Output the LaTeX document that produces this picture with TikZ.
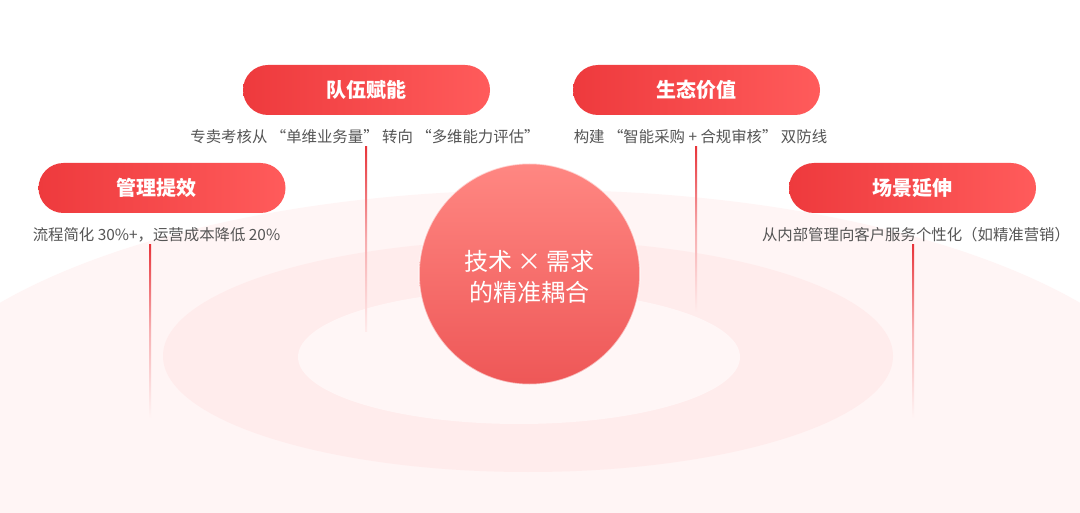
\documentclass[tikz,border=0pt]{standalone}
\usepackage{fontspec}
\setmainfont{Noto Sans CJK SC}
\usetikzlibrary{calc}
\definecolor{pillL}{HTML}{EE3A3D}
\definecolor{pillR}{HTML}{FF5B5B}
\definecolor{ringA}{HTML}{FFF5F5}
\definecolor{ringB}{HTML}{FFECEC}
\definecolor{ringC}{HTML}{FFF6F6}
\definecolor{circT}{HTML}{FF8782}
\definecolor{circB}{HTML}{EE5757}
\definecolor{desctext}{HTML}{555555}
\definecolor{lineR}{HTML}{E8343A}
\tikzset{
  pill/.style={rectangle, rounded corners=25pt, minimum width=247pt, minimum height=50pt,
    left color=pillL, right color=pillR, text=white, inner sep=0pt,
    font=\fontsize{20}{22}\selectfont\bfseries},
  desc/.style={text=desctext, inner sep=2pt, font=\fontsize{15.4}{18}\selectfont},
  stem/.style={top color=lineR, bottom color=#1, middle color=lineR!35!#1},
  core/.style={circle, minimum size=221pt, inner sep=0pt, top color=circT, bottom color=circB,
    draw=white, draw opacity=0.6, line width=1.5pt},
  coretext/.style={text=white, align=center, inner sep=0pt, font=\fontsize{24}{31}\selectfont}
}
\begin{document}
\begin{tikzpicture}[x=1pt,y=-1pt]
\useasboundingbox (0,0) rectangle (1080,513);
\fill[white] (0,0) rectangle (1080,513);
\begin{scope}
\clip (0,0) rectangle (1080,513);
\fill[ringA] (540,450) ellipse [x radius=655, y radius=260];
\fill[ringB] (528,356) ellipse [x radius=365, y radius=116];
\fill[ringC] (519,357) ellipse [x radius=221, y radius=67];
\end{scope}

\node[pill] (p1) at (162,188) {管理提效\hspace*{12pt}};
\node[pill] (p2) at (366.5,90) {队伍赋能};
\node[pill] (p3) at (696.5,90) {生态价值};
\node[pill] (p4) at (912.5,188) {场景延伸};

\node[desc] (d1) at (156.5,235) {流程简化 30\%+，运营成本降低 20\%};
\node[desc] (d2) at (365,137) {专卖考核从 “单维业务量” 转向 “多维能力评估”};
\node[desc] (d3) at (700.5,137) {构建 “智能采购 + 合规审核” 双防线};
\node[desc] (d4) at (916,235) {从内部管理向客户服务个性化（如精准营销）};

\coordinate (e1) at (150,418);
\coordinate (e2) at (366,332);
\coordinate (e3) at (696,312);
\coordinate (e4) at (913,418);
\path[stem=ringA] ($(d1.south -| e1)+(-1,0)$) rectangle ($(e1)+(1,0)$);
\path[stem=ringB] ($(d2.south -| e2)+(-1,0)$) rectangle ($(e2)+(1,0)$);
\path[stem=ringB] ($(d3.south -| e3)+(-1,0)$) rectangle ($(e3)+(1,0)$);
\path[stem=ringA] ($(d4.south -| e4)+(-1,0)$) rectangle ($(e4)+(1,0)$);

\node[core] (c) at (529.5,274) {};
\node[coretext] (ct) at ($(c.center)+(0,3)$) {技术 × 需求\\的精准耦合};
\end{tikzpicture}
\end{document}
